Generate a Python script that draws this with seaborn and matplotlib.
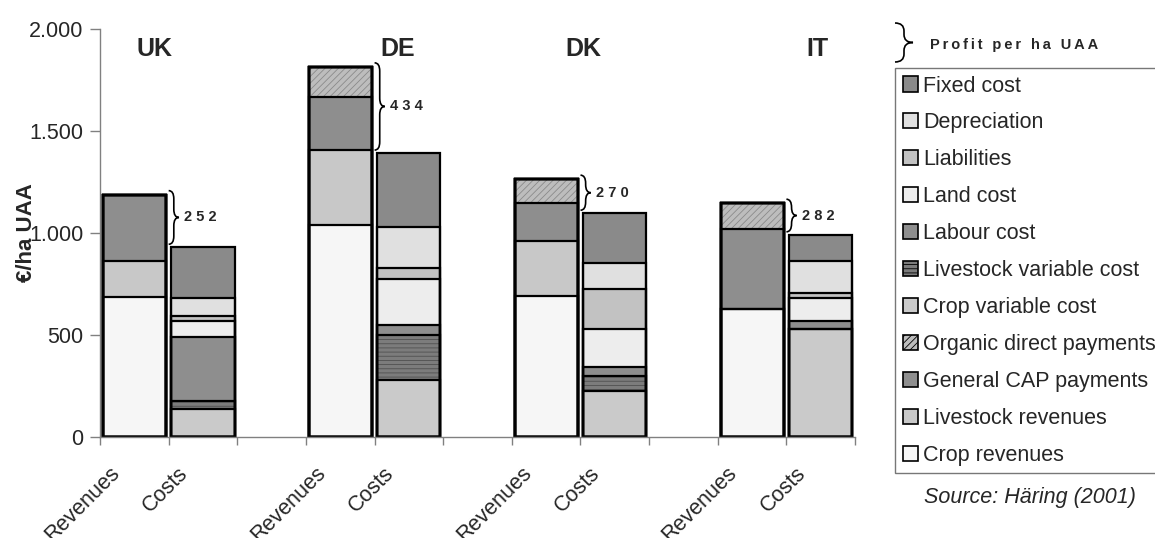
"""Revenues and costs per ha UAA of organic farms, four countries"""

import numpy as np
import pandas as pd
import seaborn as sns
import matplotlib.pyplot as plt
from matplotlib.patches import Patch, PathPatch
from matplotlib.path import Path
from matplotlib.transforms import ScaledTranslation

sns.set_theme(style="ticks")
plt.rcParams["font.family"] = ["Liberation Sans", "DejaVu Sans"]
plt.rcParams["hatch.linewidth"] = 0.6

# --- data ---
countries = ["UK", "DE", "DK", "IT"]
bar_names = ["UK Revenues", "UK Costs", "DE Revenues", "DE Costs",
             "DK Revenues", "DK Costs", "IT Revenues", "IT Costs"]
order = ["UK Revenues", "UK Costs", "gap1", "DE Revenues", "DE Costs", "gap2",
         "DK Revenues", "DK Costs", "gap3", "IT Revenues", "IT Costs"]
tick_labels = ["Revenues", "Costs", "", "Revenues", "Costs", "",
               "Revenues", "Costs", "", "Revenues", "Costs"]

crop_revenues = [685, 0, 1040, 0, 692, 0, 625, 0]
livestock_revenues = [175, 0, 364, 0, 268, 0, 0, 0]
general_cap = [327, 0, 262, 0, 185, 0, 393, 0]
organic_payments = [0, 0, 148, 0, 118, 0, 127, 0]
crop_var_cost = [0, 134, 0, 278, 0, 223, 0, 527]
livestock_var_cost = [0, 43, 0, 221, 0, 76, 0, 0]
labour_cost = [0, 314, 0, 49, 0, 42, 0, 39]
land_cost = [0, 78, 0, 224, 0, 186, 0, 116]
liabilities = [0, 25, 0, 57, 0, 198, 0, 22]
depreciation = [0, 88, 0, 201, 0, 126, 0, 158]
fixed_cost = [0, 247, 0, 361, 0, 245, 0, 128]

profit = [252, 434, 270, 282]

yticks = [0, 500, 1000, 1500, 2000]
ytick_labels = ["0", "500", "1.000", "1.500", "2.000"]

# stacking order, bottom to top
layers = {
    "Crop revenues": crop_revenues,
    "Livestock revenues": livestock_revenues,
    "General CAP payments": general_cap,
    "Organic direct payments": organic_payments,
    "Crop variable cost": crop_var_cost,
    "Livestock variable cost": livestock_var_cost,
    "Labour cost": labour_cost,
    "Land cost": land_cost,
    "Liabilities": liabilities,
    "Depreciation": depreciation,
    "Fixed cost": fixed_cost,
}

# facecolor, hatch, hatch colour
styles = {
    "Crop revenues": ("#f6f6f6", None, "#f6f6f6"),
    "Livestock revenues": ("#c8c8c8", None, "#c8c8c8"),
    "General CAP payments": ("#8e8e8e", None, "#8e8e8e"),
    "Organic direct payments": ("#bdbdbd", "/////", "#8a8a8a"),
    "Crop variable cost": ("#cacaca", None, "#cacaca"),
    "Livestock variable cost": ("#7c7c7c", "----", "#505050"),
    "Labour cost": ("#8e8e8e", None, "#8e8e8e"),
    "Land cost": ("#ededed", None, "#ededed"),
    "Liabilities": ("#c2c2c2", None, "#c2c2c2"),
    "Depreciation": ("#e0e0e0", None, "#e0e0e0"),
    "Fixed cost": ("#8a8a8a", None, "#8a8a8a"),
}


def draw_brace(ax, x0, y_top, y_bot, w, r, transform, lw=1.2):
    """Draw a right-pointing curly brace between y_top and y_bot."""
    xm = x0 + w / 2
    ymid = (y_top + y_bot) / 2
    verts = [
        (x0, y_top), (xm, y_top), (xm, y_top - r),
        (xm, ymid + r),
        (xm, ymid), (x0 + w, ymid),
        (xm, ymid), (xm, ymid - r),
        (xm, y_bot + r),
        (xm, y_bot), (x0, y_bot),
    ]
    codes = [Path.MOVETO, Path.CURVE3, Path.CURVE3, Path.LINETO,
             Path.CURVE3, Path.CURVE3, Path.CURVE3, Path.CURVE3,
             Path.LINETO, Path.CURVE3, Path.CURVE3]
    patch = PathPatch(Path(verts, codes), facecolor="none", edgecolor="black",
                      lw=lw, transform=transform, clip_on=False)
    ax.add_artist(patch)


df = pd.DataFrame({"bar": bar_names, **layers})
cum = df[list(layers)].cumsum(axis=1)

fig = plt.figure(figsize=(11.55, 5.38), dpi=100)
ax = fig.add_axes([0.0866, 0.1883, 0.6537, 0.7578])

# fills: draw cumulative heights from the top layer down
for name in reversed(list(layers)):
    face, hatch, hcol = styles[name]
    sns.barplot(x=df["bar"], y=cum[name], order=order, color=face, hatch=hatch,
                edgecolor=hcol, linewidth=0, saturation=1, width=0.92,
                errorbar=None, ax=ax)
# black outlines of every segment
for name in reversed(list(layers)):
    sns.barplot(x=df["bar"], y=cum[name], order=order, color="black", fill=False,
                linewidth=1.6, saturation=1, width=0.92, errorbar=None, ax=ax)

ax.set_xlim(-0.5, 10.5)
ax.set_ylim(0, 2000)
ax.set_yticks(yticks, ytick_labels, fontsize=15.5)
ax.set_xticks(range(len(order)), tick_labels, fontsize=15.5, rotation=45,
              ha="right", va="center", rotation_mode="anchor")
ax.set_xticks(np.arange(-0.5, len(order), 1), minor=True)
ax.tick_params(axis="x", which="major", length=0, pad=24)
ax.tick_params(axis="x", which="minor", length=6, color="#808080", width=1)
ax.tick_params(axis="y", length=7, color="#808080", width=1, pad=5)
for lbl in ax.get_xticklabels():
    lbl.set_transform(lbl.get_transform() + ScaledTranslation(-0.18, 0, fig.dpi_scale_trans))
ax.set_xlabel("")
ax.set_ylabel("€/ha UAA", fontsize=16, fontweight="bold", va="center")
ax.yaxis.set_label_coords(-0.098, 0.5)
for side in ["top", "right"]:
    ax.spines[side].set_visible(False)
for side in ["left", "bottom"]:
    ax.spines[side].set_color("#808080")
    ax.spines[side].set_linewidth(1)
ax.grid(False)

# country names
label_x = [0.30, 3.83, 6.54, 9.95]
for x, c in zip(label_x, countries):
    ax.text(x, 1902, c, ha="center", va="center", fontsize=18, fontweight="bold")

# profit braces
tops = cum["Fixed cost"].to_numpy()
for i, p in enumerate(profit):
    rev_top, cost_top = tops[2 * i], tops[2 * i + 1]
    xr = order.index(bar_names[2 * i])
    y_top, y_bot = rev_top + 20, cost_top + 15
    draw_brace(ax, xr + 0.5, y_top, y_bot, 0.15, 40, ax.transData)
    ax.text(xr + 0.72, (y_top + y_bot) / 2, " ".join(str(p)), ha="left", va="center",
            fontsize=10.5, fontweight="bold")

# legend brace and caption
draw_brace(ax, 895 / 1155, 1 - 23 / 538, 1 - 62 / 538, 18 / 1155, 8 / 538, fig.transFigure)
fig.text(930 / 1155, 1 - 45 / 538, "\u2009".join("Profit per ha UAA"), fontsize=10.5,
         fontweight="bold", va="center")

handles = []
for name in reversed(list(layers)):
    face, hatch, hcol = styles[name]
    handles.append(Patch(facecolor=face, hatch=hatch, edgecolor="black", linewidth=1.2, label=name))
leg = fig.legend(handles=handles, loc="upper left", bbox_to_anchor=(895 / 1155, 1 - 68 / 538),
                 fontsize=15.5, frameon=True, fancybox=False, borderaxespad=0,
                 borderpad=0.35, labelspacing=0.74, handlelength=0.7, handleheight=0.7,
                 handletextpad=0.25)
leg.get_frame().set_edgecolor("#555555")
leg.get_frame().set_linewidth(1)

fig.text(1030 / 1155, 1 - 498 / 538, "Source: Häring (2001)", fontsize=15.5,
         style="italic", ha="center", va="center")

fig.savefig("out.png", dpi=100)
